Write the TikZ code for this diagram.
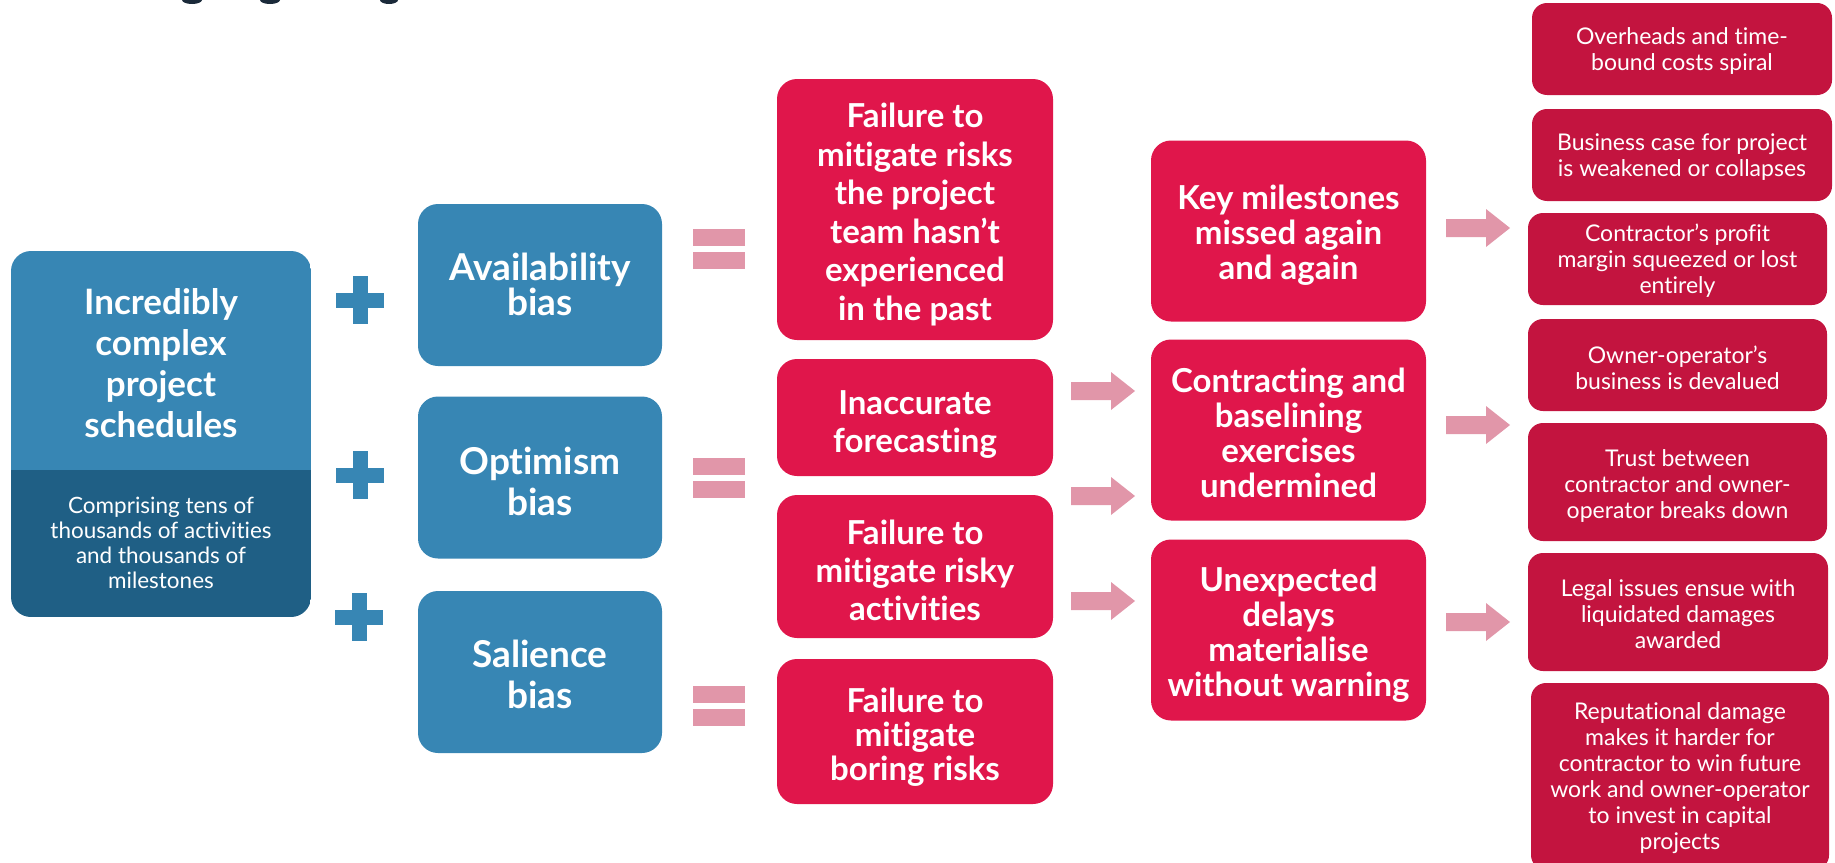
\documentclass[tikz,border=0pt]{standalone}
\usepackage{fontspec}
\setmainfont{Lato}[Ligatures=NoCommon]
\definecolor{blueC}{HTML}{3786B4}
\definecolor{blueD}{HTML}{1F5F85}
\definecolor{redC}{HTML}{E0164B}
\definecolor{redD}{HTML}{C3143F}
\definecolor{pinkC}{HTML}{E196A9}
\definecolor{titleC}{HTML}{1B2A3A}
\tikzset{
  box/.style={inner sep=0pt},
  txt/.style={inner sep=0pt, text=white, align=center},
  biasbox/.style={box, fill=blueC, rounded corners=20pt, minimum width=244pt, minimum height=162pt},
  biastxt/.style={txt, font=\bfseries\fontsize{37}{41}\selectfont},
  failbox/.style={box, fill=redC, rounded corners=20pt, minimum width=276pt},
  failtxt/.style={txt, font=\bfseries\fontsize{33}{38}\selectfont},
  effbox/.style={box, fill=redC, rounded corners=20pt, minimum width=275pt, minimum height=181pt},
  efftxt/.style={txt, font=\bfseries\fontsize{33}{35}\selectfont},
  outbox/.style={box, fill=redD, rounded corners=15pt, minimum width=299pt},
  outtxt/.style={txt, font=\fontsize{23}{26}\selectfont},
  barrow/.pic={\fill[pinkC] (0,-9) -- (40,-9) -- (40,-19) -- (64,0) -- (40,19) -- (40,9) -- (0,9) -- cycle;},
  plussign/.pic={\fill[blueC] (-7.5,-24) rectangle (7.5,24); \fill[blueC] (-24,-7.5) rectangle (24,7.5);},
  eqsign/.pic={\fill[pinkC] (-26,-20) rectangle (26,-3); \fill[pinkC] (-26,3) rectangle (26,20);}
}
\begin{document}
\begin{tikzpicture}[x=1pt,y=-1pt]
\useasboundingbox (0,0) rectangle (1835,862);
% cut-off title descenders
\fill[titleC] (192,0) ellipse [x radius=10pt, y radius=4pt];
\fill[titleC] (270,0) ellipse [x radius=10pt, y radius=4pt];
\fill[titleC] (389,0) ellipse [x radius=9pt, y radius=4pt];
% left box
\begin{scope}
\clip[rounded corners=20pt] (11,251) rectangle (311,617);
\fill[blueC] (11,251) rectangle (311,470);
\fill[blueD] (11,470) rectangle (311,617);
\end{scope}
\node[txt, font=\bfseries\fontsize{35}{41}\selectfont] (sched) at (161,363) {Incredibly\\complex\\project\\schedules};
\node[txt, font=\fontsize{22.5}{25}\selectfont] (compr) at (161,543) {Comprising tens of\\thousands of activities\\and thousands of\\milestones};
% plus signs
\pic at (360,300) {plussign};
\pic at (360,475) {plussign};
\pic at (359,617) {plussign};
% bias boxes
\node[biasbox] (avail) at (540,285) {};
\node[biastxt, font=\bfseries\fontsize{37}{35}\selectfont] (availt) at ([yshift=1pt]avail.center) {Availability\\bias};
\node[biasbox] (optim) at (540,477.5) {};
\node[biastxt] (optimt) at ([yshift=-3.5pt]optim.center) {Optimism\\bias};
\node[biasbox] (salie) at (540,672) {};
\node[biastxt] (saliet) at ([yshift=-2.5pt]salie.center) {Salience\\bias};
% equals signs
\pic at (719,249) {eqsign};
\pic at (719,478) {eqsign};
\pic at (719,706) {eqsign};
% failure column
\node[failbox, minimum height=261pt] (fail1) at (915,209.5) {};
\node[failtxt, font=\bfseries\fontsize{33}{38.5}\selectfont] (fail1t) at ([yshift=-5pt]fail1.center) {Failure to\\mitigate risks\\the project\\team hasn’t\\experienced\\in the past};
\node[failbox, minimum height=117pt] (inacc) at (915,417.5) {};
\node[failtxt] (inacct) at ([yshift=-7pt]inacc.center) {Inaccurate\\forecasting};
\node[failbox, minimum height=143pt] (risky) at (915,566.5) {};
\node[failtxt] (riskyt) at ([yshift=-3.5pt]risky.center) {Failure to\\mitigate risky\\activities};
\node[failbox, minimum height=145pt] (boring) at (915,731.5) {};
\node[failtxt, font=\bfseries\fontsize{33}{34}\selectfont] (boringt) at ([yshift=-6pt]boring.center) {Failure to\\mitigate\\boring risks};
% arrows into effects
\pic at (1071,391) {barrow};
\pic at (1071,496) {barrow};
\pic at (1071,601) {barrow};
% effects column
\node[effbox] (keym) at (1288.5,231) {};
\node[efftxt] (keymt) at ([yshift=-4pt]keym.center) {Key milestones\\missed again\\and again};
\node[effbox] (contr) at (1288.5,430) {};
\node[efftxt] (contrt) at ([yshift=-2.5pt]contr.center) {Contracting and\\baselining\\exercises\\undermined};
\node[effbox] (unexp) at (1288.5,630) {};
\node[efftxt] (unexpt) at ([yshift=-5pt]unexp.center) {Unexpected\\delays\\materialise\\without warning};
% arrows into outcomes
\pic at (1446,228) {barrow};
\pic at (1446,425) {barrow};
\pic at (1446,622) {barrow};
% outcome boxes
\node[outbox, minimum width=300pt, minimum height=92pt] (over) at (1682,49) {};
\node[outtxt] (overt) at ([yshift=-2.5pt]over.center) {Overheads and time-\\bound costs spiral};
\node[outbox, minimum width=300pt, minimum height=92pt] (busi) at (1682,155) {};
\node[outtxt] (busit) at ([yshift=-2.5pt]busi.center) {Business case for project\\is weakened or collapses};
\node[outbox, minimum height=92pt] (cprof) at (1677.5,259) {};
\node[outtxt] (cproft) at ([yshift=-2pt]cprof.center) {Contractor’s profit\\margin squeezed or lost\\entirely};
\node[outbox, minimum height=92pt] (owner) at (1677.5,365) {};
\node[outtxt] (ownert) at ([yshift=-2.5pt]owner.center) {Owner-operator’s\\business is devalued};
\node[outbox, minimum height=118pt] (trust) at (1677.5,482) {};
\node[outtxt] (trustt) at ([yshift=-3.5pt]trust.center) {Trust between\\contractor and owner-\\operator breaks down};
\node[outbox, minimum width=300pt, minimum height=118pt] (legal) at (1678,612) {};
\node[outtxt] (legalt) at ([yshift=-2.5pt]legal.center) {Legal issues ensue with\\liquidated damages\\awarded};
\node[outbox, minimum width=298pt, minimum height=187pt] (repu) at (1680,776.5) {};
\node[outtxt] (reput) at ([yshift=-2pt]repu.center) {Reputational damage\\makes it harder for\\contractor to win future\\work and owner-operator\\to invest in capital\\projects};
\end{tikzpicture}
\end{document}
